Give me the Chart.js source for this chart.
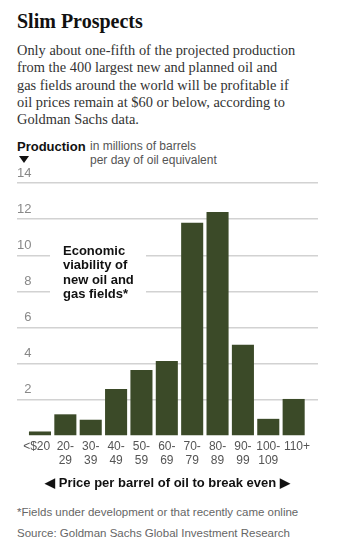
<!DOCTYPE html>
<html>
<head>
<meta charset="utf-8">
<script src="https://cdn.jsdelivr.net/npm/chart.js@4/dist/chart.umd.min.js"></script>
<style>
  html, body { margin: 0; padding: 0; background: #fff; }
  body { width: 348px; height: 549px; position: relative; overflow: hidden; }
  .abs { position: absolute; white-space: nowrap; }
  #title { left: 17px; top: 10px; font: bold 20px "Liberation Serif", "DejaVu Serif", serif; color: #111; }
  #dek { left: 17px; top: 42px; font: 14.4px/17.3px "Liberation Serif", serif; color: #333; }
  #prod { left: 17px; top: 139px; font: bold 13px "Liberation Sans", Arial, sans-serif; color: #111; }
  #unit { left: 90px; top: 140px; font: 12px/13.5px "Liberation Sans", Arial, sans-serif; color: #555; }
  #tri { left: 19px; top: 156px; width: 0; height: 0; border-left: 5.5px solid transparent; border-right: 5.5px solid transparent; border-top: 7px solid #111; }
  #note { left: 17px; top: 506px; font: 11.5px "Liberation Sans", Arial, sans-serif; color: #666; }
  #src { left: 17px; top: 527px; font: 11.5px "Liberation Sans", Arial, sans-serif; color: #666; }
  #wrap { position: absolute; left: 0; top: 160px; width: 348px; height: 340px; }
</style>
</head>
<body>
<div id="title" class="abs">Slim Prospects</div>
<div id="dek" class="abs">Only about one-fifth of the projected production<br>from the 400 largest new and planned oil and<br>gas fields around the world will be profitable if<br>oil prices remain at $60 or below, according to<br>Goldman Sachs data.</div>
<div id="prod" class="abs">Production</div>
<div id="unit" class="abs">in millions of barrels<br>per day of oil equivalent</div>
<div id="tri" class="abs"></div>
<div id="wrap"><canvas id="c" width="348" height="340"></canvas></div>
<div id="note" class="abs">*Fields under development or that recently came online</div>
<div id="src" class="abs">Source: Goldman Sachs Global Investment Research</div>
<script>
// Break-even price buckets (dollars per barrel)
const categories = [
  ['<$20  '], ['20-', '29'], ['30-', '39'], ['40-', '49'], ['50-', '59'],
  ['60-', '69'], ['70-', '79'], ['80-', '89'], ['90-', '99'], ['100-', '109'], ['  110+']
];
// Production, millions of barrels per day of oil equivalent
const production = [0.25, 1.2, 0.9, 2.6, 3.65, 4.15, 11.8, 12.4, 5.05, 0.95, 2.05];
// Value-axis ticks
const yTicks = [0, 2, 4, 6, 8, 10, 12, 14];

const annotationLines = ['Economic', 'viability of', 'new oil and', 'gas fields*'];

const annotation = {
  id: 'annotation',
  afterDatasetsDraw(chart) {
    const ctx = chart.ctx;
    const y = chart.scales.y;
    const top = y.getPixelForValue(10.9);
    const bottom = y.getPixelForValue(7.3);
    ctx.save();
    ctx.fillStyle = '#fff';
    ctx.fillRect(50, top, 96, bottom - top);
    ctx.fillStyle = '#111';
    ctx.font = 'bold 13px "Liberation Sans", Arial, sans-serif';
    ctx.textBaseline = 'middle';
    ctx.textAlign = 'left';
    annotationLines.forEach((t, i) => ctx.fillText(t, 63, top + 12 + i * 14.5));
    ctx.restore();
  }
};

new Chart(document.getElementById('c'), {
  type: 'bar',
  data: {
    datasets: [{
      data: production.map((v, i) => ({ x: i, y: v })),
      backgroundColor: '#3b4a28',
      borderWidth: 0,
      barPercentage: 0.87,
      categoryPercentage: 1
    }]
  },
  options: {
    responsive: false,
    animation: false,
    layout: { padding: { left: 17, right: 30, top: 23, bottom: 9 } },
    plugins: { legend: { display: false }, tooltip: { enabled: false } },
    scales: {
      x: {
        type: 'linear',
        min: -0.906,
        max: 10.96,
        offset: false,
        afterBuildTicks: s => { s.ticks = categories.map((_, i) => ({ value: i })); },
        afterFit: s => { s.height = 55; },
        ticks: {
          autoSkip: false,
          maxRotation: 0,
          padding: -4,
          color: '#555',
          font: { family: '"Liberation Sans", Arial, sans-serif', size: 12, lineHeight: 1.17 },
          callback: v => categories[v]
        },
        grid: { display: false },
        border: { display: false },
        title: {
          display: true,
          text: '◀ Price per barrel of oil to break even ▶',
          color: '#111',
          font: { family: '"Liberation Sans", Arial, sans-serif', size: 13, weight: 'bold' },
          padding: { top: 8, bottom: 0 }
        }
      },
      y: {
        min: 0,
        max: 14,
        afterBuildTicks: s => { s.ticks = yTicks.map(v => ({ value: v })); },
        afterFit: s => { s.width = 0; },
        ticks: {
          mirror: true,
          crossAlign: 'far',
          labelOffset: -10,
          padding: 0,
          color: '#888',
          font: { family: '"Liberation Sans", Arial, sans-serif', size: 13 },
          callback: v => (v === 0 ? '' : v)
        },
        grid: {
          drawTicks: false,
          color: c => (c.tick && c.tick.value === 0 ? 'rgba(0,0,0,0)' : '#d2d2d2'),
          lineWidth: 1.5
        },
        border: { display: false }
      }
    }
  },
  plugins: [annotation]
});
</script>
</body>
</html>
